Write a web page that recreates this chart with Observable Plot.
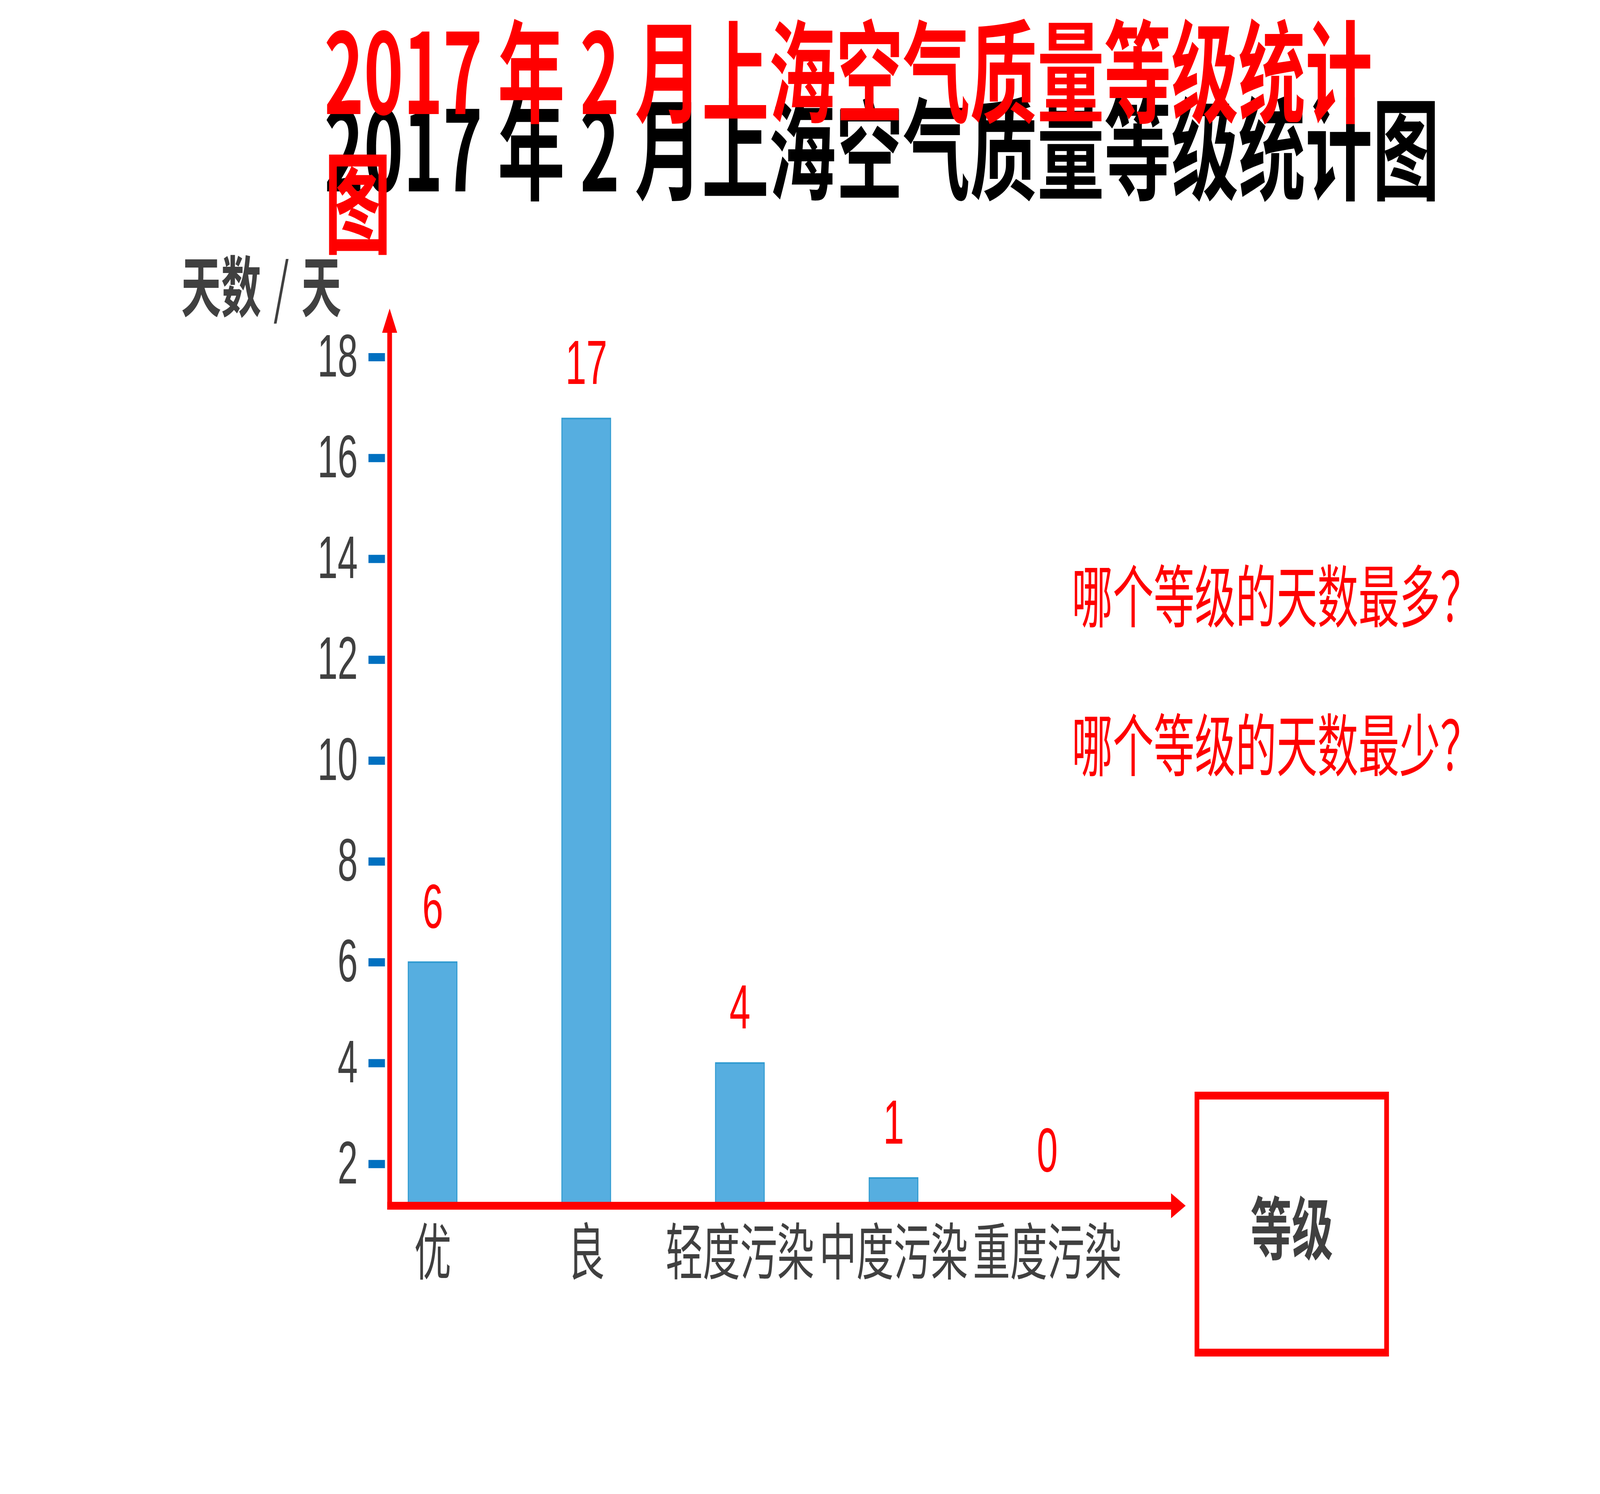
<!DOCTYPE html>
<html>
<head>
<meta charset="utf-8">
<script src="https://cdn.jsdelivr.net/npm/d3@7"></script>
<script src="https://cdn.jsdelivr.net/npm/@observablehq/plot@0.6"></script>
<style>
  html, body { margin: 0; padding: 0; background: #fff; overflow: hidden; }
  #stage { position: relative; width: 6800px; height: 3825px; overflow: hidden; background: #fff; transform-origin: 0 0; }
  #stage svg.plot { position: absolute; left: 0; top: 0; }
  .txt { position: absolute; white-space: nowrap; font-family: "Noto Sans CJK SC", sans-serif; }
  #titleBlack { left: 1378px; top: 223px; font-size: 285px; line-height: 285px; font-weight: 700; color: #000; }
  #titleRed { left: 1378px; top: 0px; width: 4500px; white-space: normal; font-size: 285px; line-height: 335px; font-weight: 700; color: #FF0000; }
  #yLabel { left: 770px; top: 674px; font-size: 170px; line-height: 100px; font-weight: 700; color: #404040; }
  #yLabel .sl { font-weight: 400; word-spacing: 14px; }
  #questions { left: 4555px; top: 1326px; font-size: 174px; line-height: 381px; color: #FF0000; }
  #gradeBox { position: absolute; left: 5077px; top: 2795px; width: 826px; height: 678px; box-sizing: border-box;
              border: 20px solid #FF0000; display: flex; align-items: center; justify-content: center;
              font-family: "Noto Sans CJK SC", sans-serif; font-weight: 700; font-size: 175px; color: #404040; }
</style>
</head>
<body>
<div id="stage">
  <div class="txt" id="titleBlack">2017 年 2 月上海空气质量等级统计图</div>
  <div class="txt" id="yLabel">天数<span class="sl"> / </span>天</div>
  <div class="txt" id="questions">哪个等级的天数最多？<br>哪个等级的天数最少？</div>
  <div id="gradeBox">等级</div>
</div>
<script>
// ---- data ----
const grades = ["优", "良", "轻度污染", "中度污染", "重度污染"];
const dayLabels = [6, 17, 4, 1, 0];              // values printed above the bars
const barHeights = [6, 16.78, 4, 1.72, 0];       // bar heights as drawn against the axis ticks
const yTicks = [2, 4, 6, 8, 10, 12, 14, 16, 18];
const yDomain = [1.17, 18.96];                   // axis line to arrow tip, in tick units

const data = grades.map((g, i) => ({grade: g, label: dayLabels[i], height: barHeights[i]}));

const CJK = '"Noto Sans CJK SC", sans-serif';
const NUM = '"Liberation Sans Narrow", "Liberation Sans", Arial, sans-serif';

const plot = Plot.plot({
  width: 6800,
  height: 3825,
  marginLeft: 1656,
  marginRight: 1761,
  marginTop: 790,
  marginBottom: 738,
  style: {background: "transparent", overflow: "visible"},
  x: {domain: grades, paddingInner: 0.683, paddingOuter: 0.431, align: 0.14, label: null},
  y: {domain: yDomain, label: null},
  marks: [
    Plot.barY(data, {x: "grade", y: "height", fill: "#56AEE0", stroke: "#2E9AD0", strokeWidth: 4, clip: true}),
    Plot.axisY({ticks: yTicks, tickSize: 70, tickPadding: 46, dx: -20,
                stroke: "#0070C0", strokeWidth: 21, fill: "#404040",
                fontSize: 154, fontFamily: NUM, label: null}),
    Plot.axisX({tickSize: 0, tickPadding: 63, fontSize: 158, fill: "#404040", fontFamily: CJK, label: null}),
    Plot.text(data, {x: "grade", y: d => Math.max(d.height, yDomain[0]), text: d => String(d.label),
                     dy: -140, fill: "#FF0000", fontSize: 160, fontFamily: NUM})
  ]
});
plot.classList.add("plot");

// red axes with arrow heads, positioned from the plot's own scales
const xr = plot.scale("x").range;
const yr = plot.scale("y").range;
const svg = d3.select(plot);
const g = svg.append("g").attr("fill", "#FF0000").attr("stroke", "none");
const aw = 20, ah = 62, hw = 32;
const x0 = xr[0], xEnd = xr[1], y0 = yr[0], yEnd = yr[1];
g.append("rect").attr("x", x0 - aw / 2).attr("y", yEnd + ah - 2).attr("width", aw).attr("height", (y0 + aw / 2) - (yEnd + ah - 2));
g.append("path").attr("d", `M${x0 - hw},${yEnd + ah}L${x0 + hw},${yEnd + ah}L${x0},${yEnd}Z`);
g.append("rect").attr("x", x0 - aw / 2).attr("y", y0 - aw / 2).attr("width", (xEnd - ah + 2) - (x0 - aw / 2)).attr("height", aw);
g.append("path").attr("d", `M${xEnd - ah},${y0 - hw}L${xEnd - ah},${y0 + hw}L${xEnd},${y0}Z`);

const stage = document.getElementById("stage");
stage.insertBefore(plot, stage.firstChild);

const red = document.createElement("div");
red.className = "txt";
red.id = "titleRed";
red.textContent = "2017 年 2 月上海空气质量等级统计图";
stage.appendChild(red);

// the chart is laid out on a 6800×3825 canvas; fit it to the actual window
function fit() {
  const sx = window.innerWidth / 6800, sy = window.innerHeight / 3825;
  stage.style.transform = `scale(${sx}, ${sy})`;
}
fit();
window.addEventListener("resize", fit);
</script>
</body>
</html>
